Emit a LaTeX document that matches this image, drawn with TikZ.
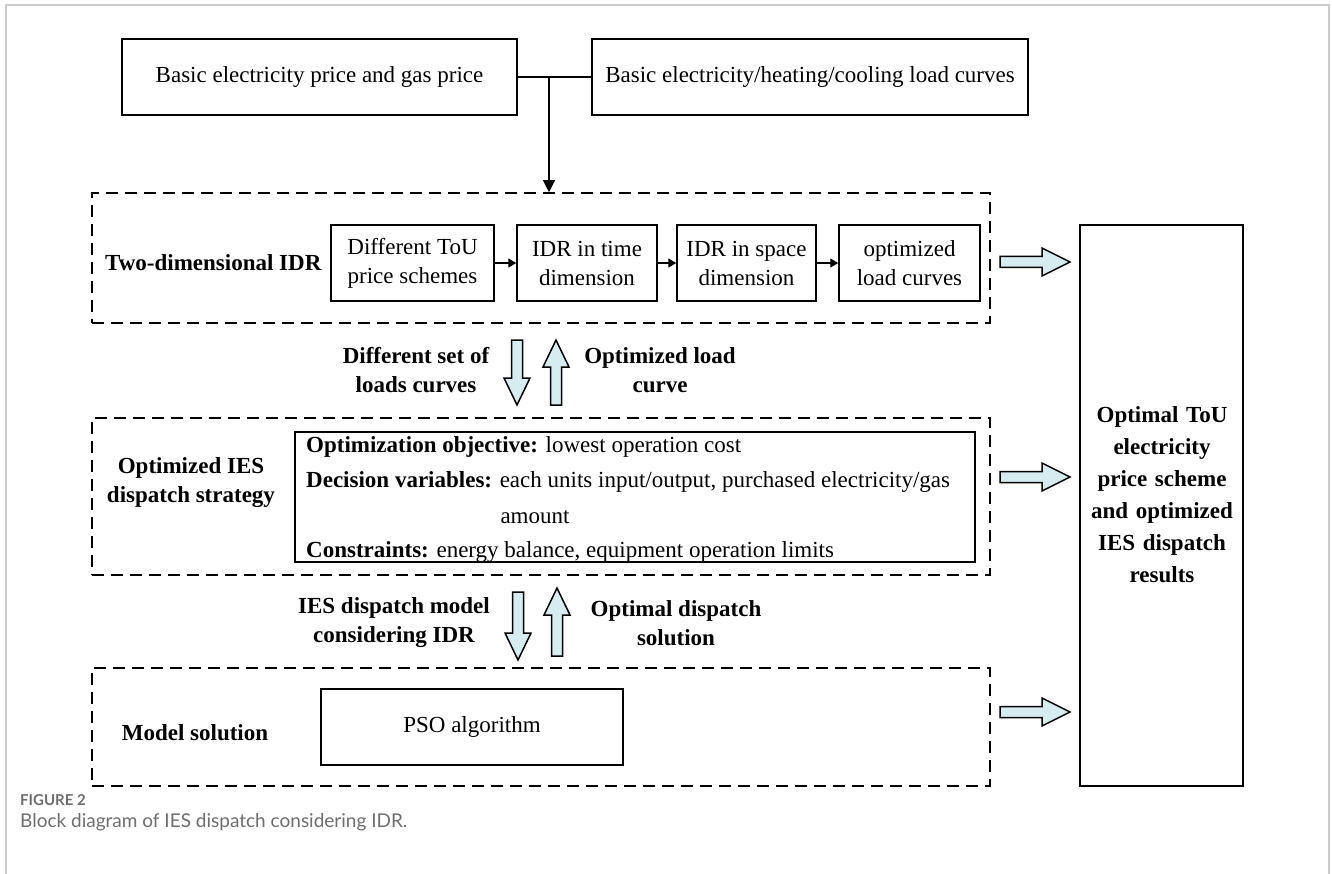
\documentclass[tikz,border=0pt]{standalone}
\usepackage{fontspec}
\setmainfont{Liberation Serif}
\newfontfamily\capfont{Lato}
\usetikzlibrary{arrows.meta}
\definecolor{arrowfill}{RGB}{214,236,241}
\definecolor{framegray}{RGB}{204,204,204}
\definecolor{capgray}{RGB}{110,110,110}
\newcommand{\varrowdown}[3]{%
  \draw[barrow] (#1-5.5,#2) -- (#1+5.5,#2) -- (#1+5.5,#3-27) -- (#1+13,#3-27) -- (#1,#3) -- (#1-13,#3-27) -- (#1-5.5,#3-27) -- cycle;}
\newcommand{\varrowup}[3]{%
  \draw[barrow] (#1-5.5,#3) -- (#1+5.5,#3) -- (#1+5.5,#2+27) -- (#1+13,#2+27) -- (#1,#2) -- (#1-13,#2+27) -- (#1-5.5,#2+27) -- cycle;}
\newcommand{\harrowright}[3]{%
  \draw[barrow] (#1,#2-5.5) -- (#3-28,#2-5.5) -- (#3-28,#2-14) -- (#3,#2) -- (#3-28,#2+14) -- (#3-28,#2+5.5) -- (#1,#2+5.5) -- cycle;}
\begin{document}
\begin{tikzpicture}[x=1pt,y=-1pt,
  box/.style={draw, line width=1.5pt, inner sep=0pt, align=center, font=\fontsize{23}{29}\selectfont},
  dbox/.style={draw, line width=1.6pt, dash pattern=on 12pt off 7pt, inner sep=0pt},
  lab/.style={font=\fontsize{23}{29}\selectfont\bfseries, align=center, inner sep=0pt},
  txt/.style={font=\fontsize{23}{29}\selectfont, inner sep=0pt, anchor=west},
  barrow/.style={draw, line width=1.5pt, fill=arrowfill, line join=miter},
  conn/.style={line width=1.3pt},
]
\useasboundingbox (0,0) rectangle (1332,874);
\draw[framegray, line width=2pt] (6,874) -- (6,5) -- (1329,5) -- (1329,874);

% top boxes
\node[box, minimum width=395pt, minimum height=76pt] (b1) at (319.5,77) {Basic electricity price and gas price};
\node[box, minimum width=436pt, minimum height=76pt] (b2) at (810,77) {Basic electricity/heating/cooling load curves};
\coordinate (j) at (549,77);

% dashed groups
\node[dbox, minimum width=898pt, minimum height=130pt] (d1) at (541,258) {};
\node[dbox, minimum width=898pt, minimum height=157pt] (d2) at (541,496.5) {};
\node[dbox, minimum width=898pt, minimum height=118pt] (d3) at (541,727) {};

\draw[conn] (b1.east) -- (b2.west);
\draw[conn, -{Triangle[length=12pt,width=12pt]}] (j) -- (j |- d1.north);

% group 1
\node[lab, anchor=west] (l1) at (105,263) {Two-dimensional IDR};
\node[box, minimum width=163pt, minimum height=76pt] (s1) at (412.5,263) {Different ToU\\price schemes};
\node[box, minimum width=140pt, minimum height=76pt] (s2) at (587,263) {IDR in time\\dimension};
\node[box, minimum width=139pt, minimum height=76pt] (s3) at (746.5,263) {IDR in space\\dimension};
\node[box, minimum width=141pt, minimum height=76pt] (s4) at (909.5,263) {optimized\\load curves};
\draw[conn, -{Triangle[length=8pt,width=9pt]}] (s1.east) -- (s2.west);
\draw[conn, -{Triangle[length=8pt,width=9pt]}] (s2.east) -- (s3.west);
\draw[conn, -{Triangle[length=8pt,width=9pt]}] (s3.east) -- (s4.west);

% arrows between group 1 and 2
\varrowdown{517}{340}{405}
\varrowup{556}{340}{405}
\node[lab] (a1) at (416,370) {Different set of\\loads curves};
\node[lab] (a2) at (660,370) {Optimized load\\curve};

% group 2
\node[lab] (l2) at (191,483) {Optimized IES\\dispatch strategy};
\node[box, minimum width=680pt, minimum height=130pt] (ib) at (635,497) {};
\node[txt] (t1) at (306,447) {\textbf{Optimization objective:} lowest operation cost};
\node[txt] (t2) at (306,482) {\textbf{Decision variables:} each units input/output, purchased electricity/gas};
\node[txt, anchor=center] (t3) at (535,517) {amount};
\node[txt] (t4) at (306,552) {\textbf{Constraints:} energy balance, equipment operation limits};

% arrows between group 2 and 3
\varrowdown{518}{592}{660}
\varrowup{557}{588}{656}
\node[lab] (a3) at (394,623) {IES dispatch model\\considering IDR};
\node[lab] (a4) at (676,623) {Optimal dispatch\\solution};

% group 3
\node[lab] (l3) at (195,733) {Model solution};
\node[box, minimum width=302pt, minimum height=76pt] (pso) at (472,727) {PSO algorithm};

% result box
\node[draw, line width=1.5pt, minimum width=163pt, minimum height=561pt, inner sep=0pt] (res) at (1161.5,505.5) {};
\node[lab, text width=160pt, font=\fontsize{23}{32}\selectfont\bfseries] (rt) at (1162,495) {Optimal ToU\\electricity\\price scheme\\and optimized\\IES dispatch\\results};

\harrowright{1000}{262}{1070}
\harrowright{1000}{477}{1070}
\harrowright{1000}{712}{1070}

% caption
\node[anchor=west, inner sep=0pt, text=capgray, font=\capfont\bfseries\fontsize{15}{18}\selectfont] (c1) at (20,800) {FIGURE 2};
\node[anchor=west, inner sep=0pt, text=capgray, font=\capfont\fontsize{19}{22}\selectfont] (c2) at (20,822) {Block diagram of IES dispatch considering IDR.};
\end{tikzpicture}
\end{document}
